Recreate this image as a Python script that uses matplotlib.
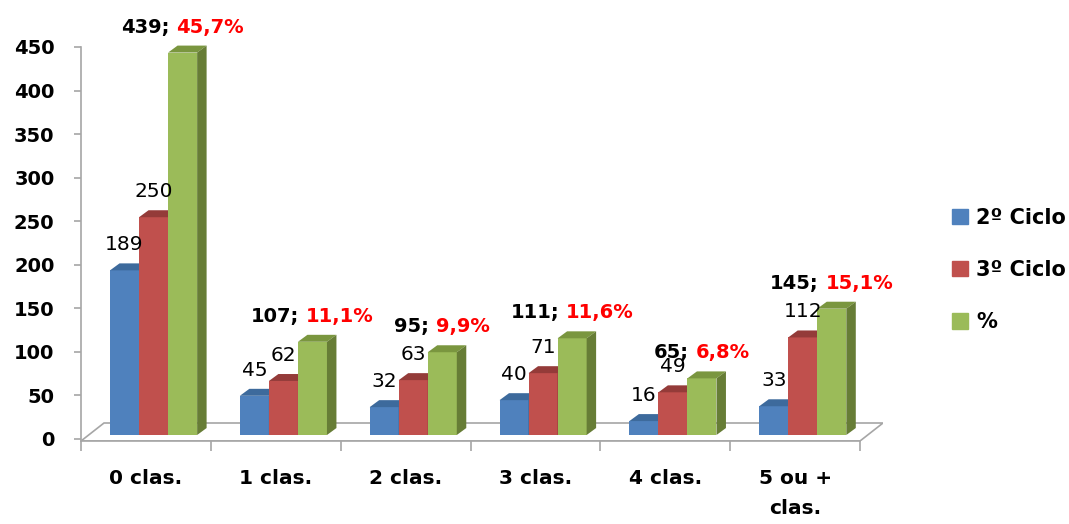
import numpy as np
import matplotlib
matplotlib.use('Agg')
import matplotlib.pyplot as plt
from matplotlib.patches import Polygon, Patch

# data
cats = ["0 clas.", "1 clas.", "2 clas.", "3 clas.", "4 clas.", "5 ou +\nclas."]
ciclo2 = [189, 45, 32, 40, 16, 33]
ciclo3 = [250, 62, 63, 71, 49, 112]
totais = [439, 107, 95, 111, 65, 145]
pcts = ["45,7%", "11,1%", "9,9%", "11,6%", "6,8%", "15,1%"]
series_names = ["2º Ciclo", "3º Ciclo", "%"]

front = ['#4F81BD', '#C0504D', '#9BBB59']
top = ['#3D6A9C', '#943B39', '#7A963F']
side = ['#385D8A', '#8A3633', '#677D36']
gray = '#A6A6A6'

fig = plt.figure(figsize=(10.69, 5.24), dpi=100)
ax = fig.add_axes([81/1069, 83/524, 802/1069, 401/524])
y0 = -2.3
fdx, fdy = 0.177, 20.66   # floor depth (x in categories, y in values)
ax.set_xlim(-0.5, 5.5 + fdx)
ax.set_ylim(y0, 458)

# floor of the 3d box
ax.add_patch(Polygon([(-0.5, y0), (5.5, y0), (5.5 + fdx, y0 + fdy), (-0.5 + fdx, y0 + fdy)],
                     closed=True, fc='white', ec=gray, lw=1.2, zorder=1))

w = 0.2236
bx, by = fdx / 3, fdy / 3
base = y0 + by
tdx, tdy = 0.073, 8.0
x = np.arange(len(cats))
centers = []
for j, vals in enumerate([ciclo2, ciclo3, totais]):
    lefts = x - 1.5 * w + j * w + bx
    ax.bar(lefts, vals, width=w, bottom=base, align='edge', color=front[j], lw=0, zorder=3 + j)
    for l, v in zip(lefts, vals):
        t = base + v
        ax.add_patch(Polygon([(l, t), (l + w, t), (l + w + tdx, t + tdy), (l + tdx, t + tdy)],
                             fc=top[j], lw=0, zorder=3 + j))
        ax.add_patch(Polygon([(l + w, base), (l + w, t), (l + w + tdx, t + tdy), (l + w + tdx, base + tdy)],
                             fc=side[j], lw=0, zorder=3 + j))
    centers.append(lefts + w / 2)

# value labels for the two ciclos
for j, vals in enumerate([ciclo2, ciclo3]):
    for xc, v in zip(centers[j], vals):
        ax.annotate(str(v), xy=(xc, base + v), xytext=(0, 14.4), textcoords='offset points',
                    ha='center', va='baseline', fontsize=14.5, color='black', zorder=10)

# total labels: black number + red percent
r = fig.canvas.get_renderer()
for xc, v, p in zip(centers[2], totais, pcts):
    a = ax.annotate(f'{v};', xy=(xc, base + v), xytext=(0, 14.4), textcoords='offset points',
                    ha='left', va='baseline', fontsize=14, fontweight='bold', color='black', zorder=10)
    b = ax.annotate(p, xy=(xc, base + v), xytext=(0, 14.4), textcoords='offset points',
                    ha='left', va='baseline', fontsize=14, fontweight='bold', color='#FF0000', zorder=10)
    w1 = a.get_window_extent(r).width
    w2 = b.get_window_extent(r).width
    gap = 7
    tot = w1 + gap + w2
    a.xyann = (-tot / 2 * 0.72, 14.4)
    b.xyann = ((-tot / 2 + w1 + gap) * 0.72, 14.4)

# axes styling
ax.spines[['top', 'right']].set_visible(False)
ax.spines['left'].set_bounds(y0, 450)
ax.spines['bottom'].set_bounds(-0.5, 5.5)
for s in ['left', 'bottom']:
    ax.spines[s].set_color(gray)
    ax.spines[s].set_linewidth(1.2)

ax.set_yticks(range(0, 451, 50))
ax.set_yticklabels([str(v) for v in range(0, 451, 50)], fontsize=14, fontweight='bold')
ax.tick_params(axis='y', length=5, width=1.2, color=gray, pad=14)

ax.set_xticks(x)
ax.set_xticklabels(cats, fontsize=14.5, fontweight='bold', linespacing=1.75)
ax.set_xticks(np.arange(-0.5, 6, 1), minor=True)
ax.tick_params(axis='x', which='major', length=0, pad=20)
ax.tick_params(axis='x', which='minor', length=7, width=1.2, color=gray)

handles = [Patch(color=c) for c in front]
fig.legend(handles, series_names, loc='center left', bbox_to_anchor=(952/1069, 254/524),
           frameon=False, prop={'weight': 'bold', 'size': 15}, handlelength=0.75, handleheight=0.75,
           handletextpad=0.4, labelspacing=1.55, borderpad=0, borderaxespad=0)

fig.savefig('out.png', dpi=100)
